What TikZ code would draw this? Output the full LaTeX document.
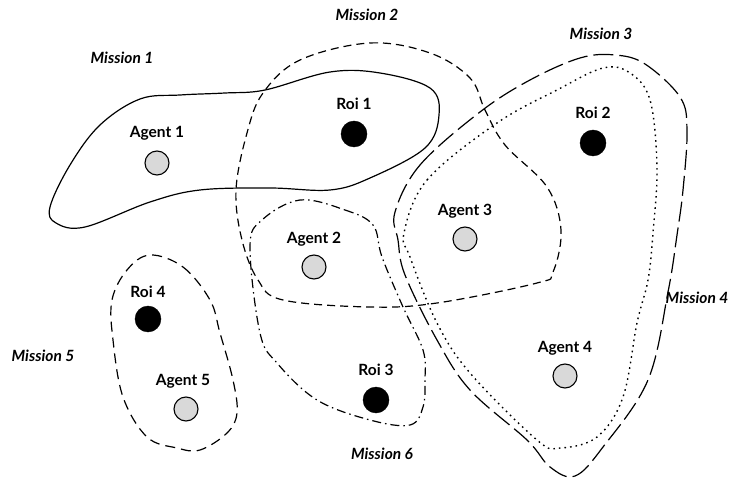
\documentclass[tikz,border=0pt]{standalone}
\usepackage{fontspec}
\setmainfont{Lato}
\begin{document}
\begin{tikzpicture}[x=1pt,y=-1pt,
  agentdot/.style={circle,draw,line width=1.1pt,fill=black!15,minimum size=24pt,inner sep=0pt},
  roidot/.style={circle,draw,fill=black,minimum size=26pt,inner sep=0pt},
  lbl/.style={font=\fontsize{15.5}{17}\selectfont\bfseries},
  mlbl/.style={font=\fontsize{15.5}{17}\selectfont\bfseries\itshape},
  zone/.style={line width=1.2pt}]
\useasboundingbox (0,0) rectangle (736,478);
% zones
\draw[zone] plot[smooth cycle,tension=0.6] coordinates {(50,207) (70,165) (100,125) (140,99) (180,95) (225,93) (265,90) (330,72) (380,73) (430,88) (439,115) (425,148) (370,178) (330,190) (270,188) (200,190) (150,202) (85,227) (56,223)};
\draw[zone,dash pattern=on 8pt off 5pt] plot[smooth cycle,tension=0.6] coordinates {(300,60) (370,43) (430,53) (470,78) (485,110) (505,145) (547,187) (561,230) (553,272) (537,283) (437,303) (370,307) (283,300) (258,280) (242,240) (236,190) (247,133) (263,93)};
\draw[zone,dash pattern=on 20pt off 6pt] plot[smooth cycle,tension=0.6] coordinates {(395,212) (420,165) (480,112) (530,80) (580,58) (615,55) (645,64) (680,97) (687,130) (683,190) (677,235) (668,292) (648,380) (603,447) (575,476) (550,467) (527,440) (470,390) (437,340) (405,275) (398,240)};
\draw[zone,line width=1.4pt,dash pattern=on 1.6pt off 4pt] plot[smooth cycle,tension=0.6] coordinates {(404,233) (427,180) (497,123) (557,90) (603,68) (630,73) (650,100) (657,167) (653,233) (648,280) (637,323) (623,397) (597,437) (560,448) (537,440) (470,373) (437,323) (410,257)};
\draw[zone,dash pattern=on 9pt off 4pt on 1.5pt off 4pt] plot[smooth cycle,tension=0.6] coordinates {(300,200) (345,210) (373,225) (382,257) (403,307) (423,350) (425,380) (423,407) (410,425) (370,420) (317,400) (277,363) (260,333) (250,247) (262,220)};
\draw[zone,dash pattern=on 10pt off 6pt] plot[smooth cycle,tension=0.6] coordinates {(150,255) (183,267) (210,300) (220,333) (233,380) (237,413) (227,433) (200,450) (177,448) (147,437) (123,397) (113,340) (112,300) (127,270)};
% dots
\node[agentdot] (a1) at (157,163) {};
\node[roidot] (r1) at (354,134) {};
\node[roidot] (r2) at (593,143) {};
\node[agentdot] (a3) at (465,239) {};
\node[agentdot] (a2) at (314,267) {};
\node[roidot] (r4) at (148,319) {};
\node[agentdot] (a5) at (186,409) {};
\node[roidot] (r3) at (376,400) {};
\node[agentdot] (a4) at (565,376) {};
% labels
\node[lbl] (la1) at (157,133) {Agent 1};
\node[lbl] (lr1) at (354,104) {Roi 1};
\node[lbl] (lr2) at (593,113) {Roi 2};
\node[lbl] (la3) at (465,211) {Agent 3};
\node[lbl] (la2) at (314,239) {Agent 2};
\node[lbl] (lr4) at (148,292) {Roi 4};
\node[lbl] (la5) at (183,381) {Agent 5};
\node[lbl] (lr3) at (376,370) {Roi 3};
\node[lbl] (la4) at (565,348) {Agent 4};
\node[mlbl] (m1) at (122,58) {Mission 1};
\node[mlbl] (m2) at (367,15) {Mission 2};
\node[mlbl] (m3) at (601,34) {Mission 3};
\node[mlbl] (m4) at (697,298) {Mission 4};
\node[mlbl] (m5) at (43,356) {Mission 5};
\node[mlbl] (m6) at (382,454) {Mission 6};
\end{tikzpicture}
\end{document}
